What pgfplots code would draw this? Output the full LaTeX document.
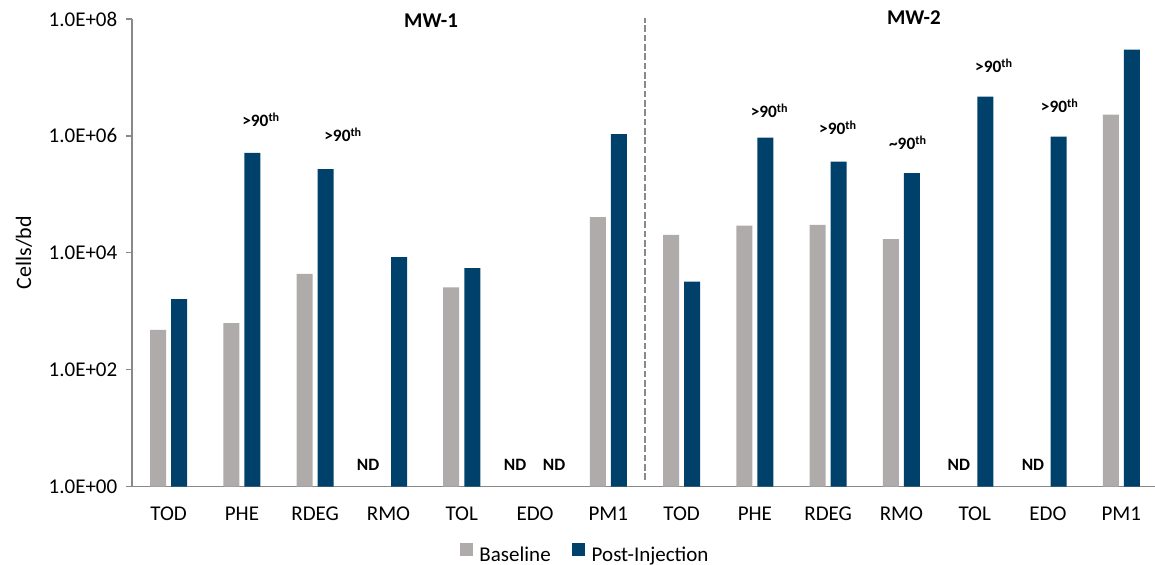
\documentclass[border=0pt]{standalone}
\usepackage{pgfplots}
\pgfplotsset{compat=1.18}
\usepackage{fontspec}
\setmainfont{Carlito}
\definecolor{basegray}{RGB}{175,171,171}
\definecolor{postblue}{RGB}{0,65,107}
\definecolor{axgray}{RGB}{137,137,137}
\begin{document}
\begin{tikzpicture}
\begin{axis}[
  scale only axis, width=767.25pt, height=350.8pt,
  ymode=log, ymin=1, ymax=1e8, xmin=-0.5, xmax=13.46,
  axis x line*=bottom, axis y line*=left,
  axis line style={axgray, line width=1.1pt},
  ytick={1,100,10000,1000000,100000000},
  yticklabels={1.0E+00,1.0E+02,1.0E+04,1.0E+06,1.0E+08},
  yminorticks=false,
  xtick={0,...,13},
  xticklabels={TOD,PHE,RDEG,RMO,TOL,EDO,PM1,TOD,PHE,RDEG,RMO,TOL,EDO,PM1},
  x tick style={draw=none},
  y tick style={axgray, line width=1pt},
  tick align=outside, major tick length=4.5pt,
  tick label style={font=\fontsize{15.75}{18}\selectfont},
  xticklabel style={yshift=-7pt},
  yticklabel style={xshift=-3pt},
  ybar, bar width=12pt,
  clip=false,
  legend columns=2,
  legend style={draw=none, at={(rel axis cs:0.4433,-0.146)}, anchor=center,
    font=\fontsize{15.75}{18}\selectfont,
    /tikz/every odd column/.append style={column sep=3pt},
    /tikz/every even column/.append style={column sep=14pt}},
  legend image code/.code={\fill[#1] (0pt,-0.5pt) rectangle (9.75pt,9.25pt);},
]
\addplot[fill=basegray, draw=none, bar shift=-7.9pt] coordinates {
  (0,480) (1,624) (2,4350) (4,2570) (6,40600)
  (7,20200) (8,29200) (9,30000) (10,17100) (13,2310000)};
\addplot[fill=postblue, draw=none, bar shift=7.9pt] coordinates {
  (0,1620) (1,510000) (2,269000) (3,8400) (4,5450) (6,1070000)
  (7,3210) (8,933000) (9,363000) (10,230000) (11,4690000) (12,970000) (13,29900000)};
\legend{Baseline, Post-Injection}
\draw[axgray, line width=1pt, dash pattern=on 5pt off 2pt] (axis cs:6.5,1.3) -- (axis cs:6.5,1.05e8);
\node[font=\bfseries\fontsize{15.75}{18}\selectfont, anchor=base] at (axis cs:3.581,7.0e7) {MW-1};
\node[font=\bfseries\fontsize{15.75}{18}\selectfont, anchor=base] at (axis cs:10.17,7.9e7) {MW-2};
\node[rotate=90, font=\fontsize{16.5}{19}\selectfont] at (rel axis cs:-0.1056,0.50) {Cells/bd};
\begin{scope}[every node/.style={font=\bfseries\fontsize{13}{15}\selectfont, anchor=base}]
\node at (axis cs:1.262,1.42e6) {>90\textsuperscript{th}};
\node at (axis cs:2.381,7.88e5) {>90\textsuperscript{th}};
\node at (axis cs:8.2,2.03e6) {>90\textsuperscript{th}};
\node at (axis cs:9.133,1.04e6) {>90\textsuperscript{th}};
\node at (axis cs:10.088,5.75e5) {\textasciitilde 90\textsuperscript{th}};
\node at (axis cs:11.262,1.19e7) {>90\textsuperscript{th}};
\node at (axis cs:12.16,2.47e6) {>90\textsuperscript{th}};
\node at (axis cs:2.722,1.856) {ND};
\node at (axis cs:4.727,1.856) {ND};
\node at (axis cs:5.259,1.856) {ND};
\node at (axis cs:10.784,1.856) {ND};
\node at (axis cs:11.794,1.856) {ND};
\end{scope}
\end{axis}
\pgfresetboundingbox
\path[use as bounding box] (-99pt,-58.7pt) rectangle (767.25pt,365pt);
\end{tikzpicture}
\end{document}
